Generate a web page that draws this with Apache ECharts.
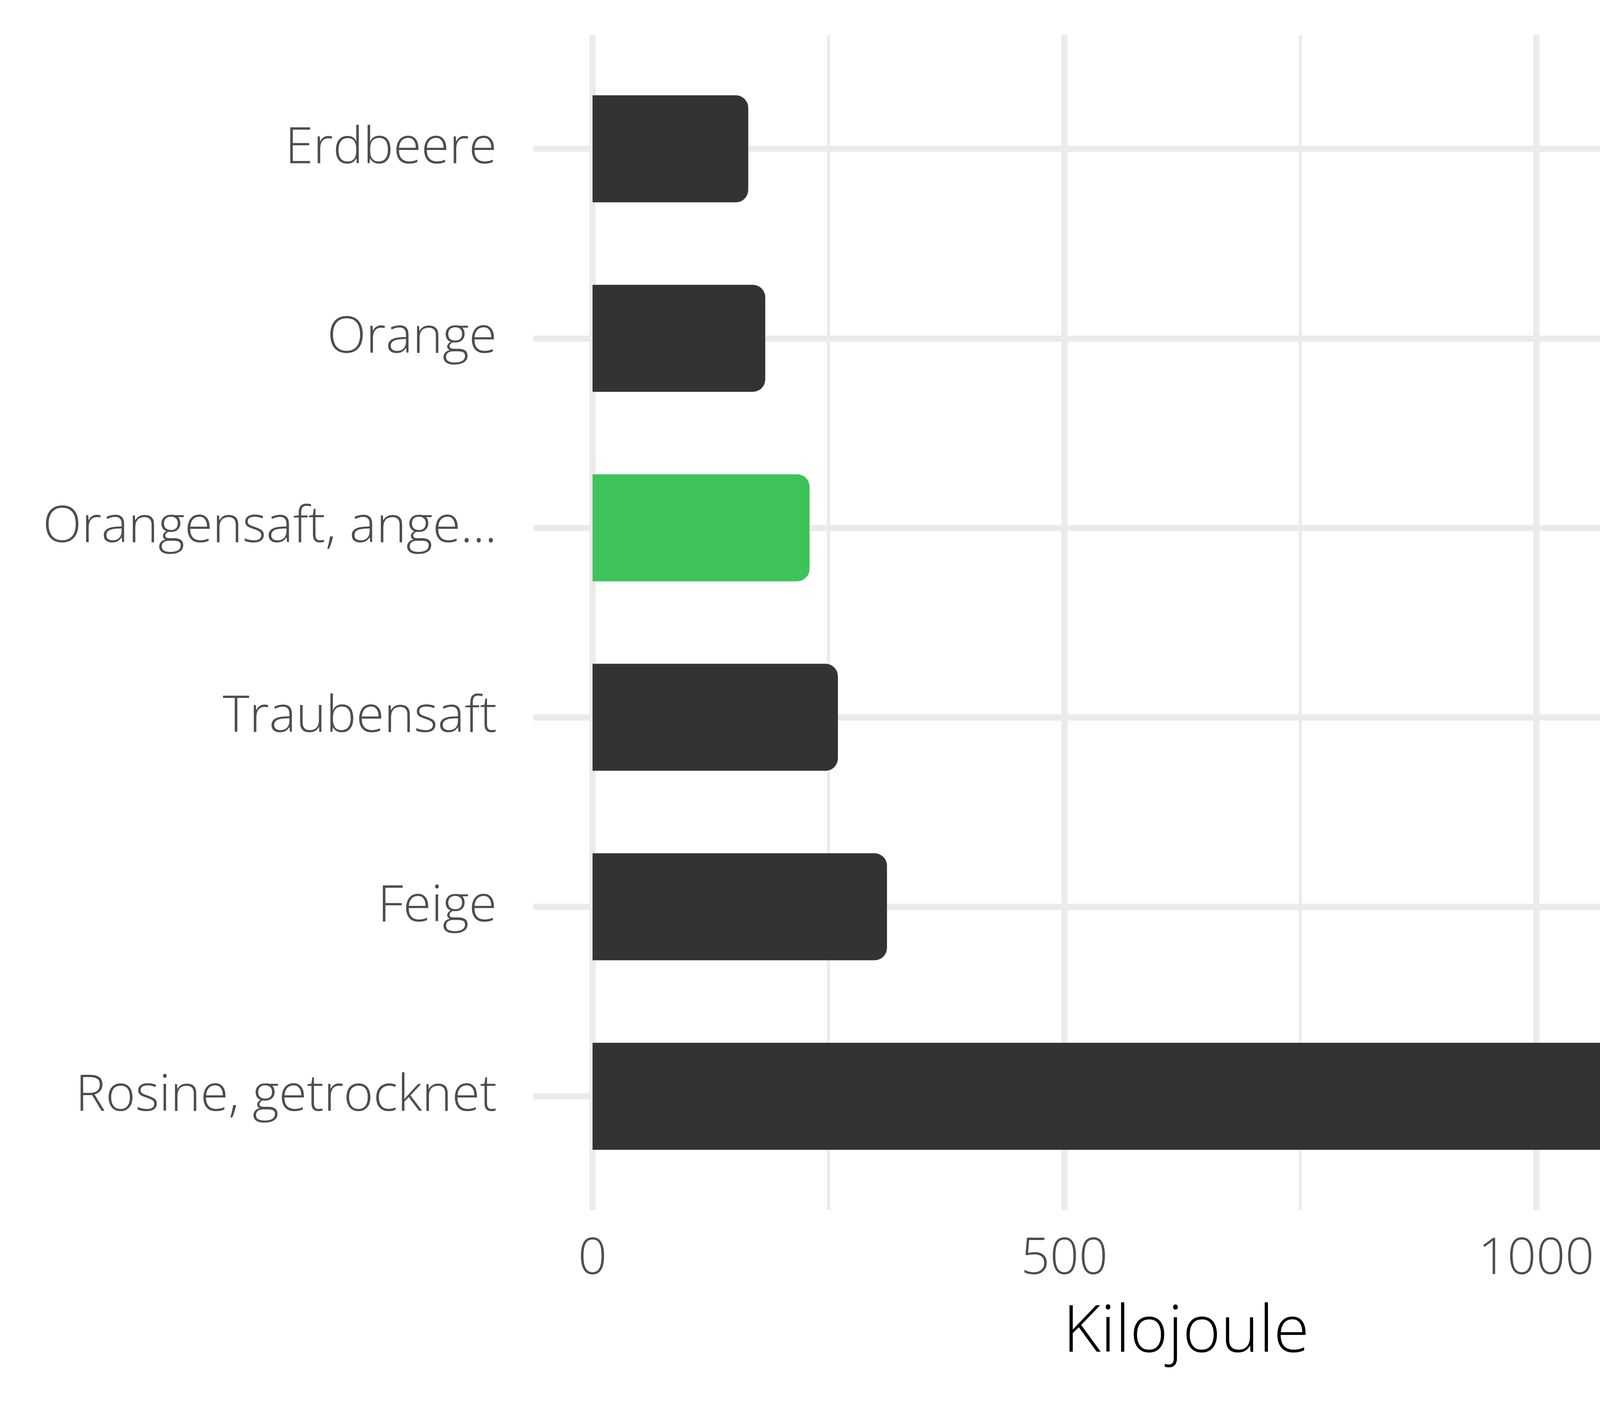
<!DOCTYPE html>
<html>
<head>
<meta charset="utf-8">
<script src="https://cdn.jsdelivr.net/npm/echarts@6/dist/echarts.min.js"></script>
<style>
html,body{margin:0;padding:0;background:#fff;overflow:hidden;}
#chart{width:4800px;height:3600px;}
</style>
</head>
<body>
<div id="chart"></div>
<script>
// Data (top to bottom)
const categories = ['Erdbeere', 'Orange', 'Orangensaft, ange...', 'Traubensaft', 'Feige', 'Rosine, getrocknet'];
const kilojoule = [165, 183, 230, 260, 312, 1258];
const highlighted = 'Orangensaft, ange...';
const xTickLabels = [0, 500, 1000];
const xMinorGrid = [250, 750, 1250];
const xMajorGridNonZero = [500, 1000];

const maxV = Math.max(...kilojoule);
const xMin = -0.05 * maxV;
const xMax = 1.05 * maxV;

const GRID_COLOR = '#EBEBEB';
const FONT = '"Open Sans", "Noto Sans", sans-serif';

const chart = echarts.init(document.getElementById('chart'), null, {renderer: 'canvas'});

const barData = kilojoule.map((v, i) => ({
  value: v,
  itemStyle: {color: categories[i] === highlighted ? '#3EC35A' : '#333333'}
}));

const option = {
  animation: false,
  backgroundColor: '#ffffff',
  grid: [
    {left: 1365, right: 92, top: 90, bottom: 502, containLabel: false},
    {left: 1365, right: 92, top: 138.5, bottom: 550.5, containLabel: false}
  ],
  xAxis: [
    {
      gridIndex: 0, type: 'value', min: xMin, max: xMax,
      axisLine: {show: false}, axisTick: {show: false}, splitLine: {show: false},
      axisLabel: {
        show: true, customValues: xTickLabels, fontSize: 130, color: '#4D4D4D',
        fontFamily: FONT, fontWeight: 300, margin: 62,
        formatter: v => String(v)
      },
      name: 'Kilojoule', nameLocation: 'middle', nameGap: 233,
      nameTextStyle: {fontSize: 166, color: '#000000', fontFamily: FONT, fontWeight: 300}
    },
    {
      gridIndex: 1, type: 'value', min: xMin, max: xMax, show: false,
      splitLine: {show: false}
    }
  ],
  yAxis: [
    {gridIndex: 0, type: 'value', min: 0, max: 1, show: false, splitLine: {show: false}},
    {
      gridIndex: 1, type: 'category', data: categories, inverse: true,
      axisLine: {show: false}, axisTick: {show: false}, splitLine: {show: false},
      axisLabel: {fontSize: 130, color: '#4D4D4D', fontFamily: FONT, fontWeight: 300, margin: 93}
    }
  ],
  series: [
    {
      // vertical panel grid lines (below bars)
      type: 'line', xAxisIndex: 0, yAxisIndex: 0, data: [], silent: true,
      markLine: {
        z: 1, silent: true, symbol: 'none', animation: false,
        label: {show: false},
        lineStyle: {color: GRID_COLOR, type: 'solid'},
        data: xMajorGridNonZero.map(v => ({xAxis: v, lineStyle: {width: 16, color: GRID_COLOR, type: 'solid'}}))
          .concat(xMinorGrid.map(v => ({xAxis: v, lineStyle: {width: 8, color: GRID_COLOR, type: 'solid'}})))
      }
    },
    {
      // white halo behind bars + horizontal grid lines
      type: 'bar', xAxisIndex: 1, yAxisIndex: 1, data: kilojoule, silent: true,
      barWidth: 274, z: 2,
      itemStyle: {color: '#ffffff', borderColor: '#ffffff', borderWidth: 28, borderRadius: [0, 32, 32, 0]},
      markLine: {
        z: 1, silent: true, symbol: 'none', animation: false,
        label: {show: false},
        lineStyle: {color: GRID_COLOR, width: 16, type: 'solid'},
        data: categories.map(c => ({yAxis: c}))
      }
    },
    {
      // zero line (above halo, below bars)
      type: 'line', xAxisIndex: 0, yAxisIndex: 0, data: [], silent: true,
      markLine: {
        z: 3, silent: true, symbol: 'none', animation: false,
        label: {show: false},
        lineStyle: {color: GRID_COLOR, width: 16, type: 'solid'},
        data: [{xAxis: 0}]
      }
    },
    {
      type: 'bar', xAxisIndex: 1, yAxisIndex: 1, data: barData, barWidth: 274, z: 4,
      barGap: '-100%',
      itemStyle: {borderRadius: [0, 32, 32, 0]}
    }
  ]
};
chart.setOption(option);
</script>
</body>
</html>
